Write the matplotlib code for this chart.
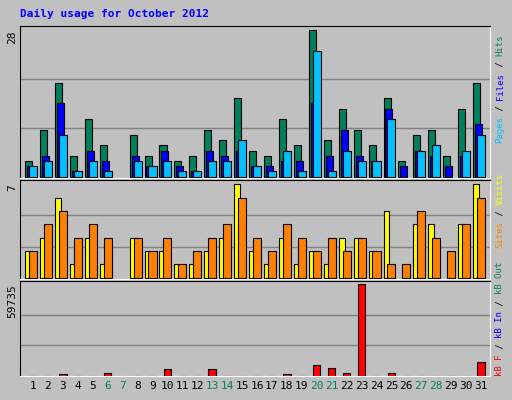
import numpy as np
from matplotlib import pyplot as plt

days = np.arange(1, 32)
hits = [3, 9, 18, 4, 11, 6, 0, 8, 4, 6, 3, 4, 9, 7, 15, 5, 4, 11, 6, 28, 7, 13, 9, 6, 15, 3, 8, 9, 4, 13, 18]
files = [2, 4, 14, 1, 5, 3, 0, 4, 2, 5, 2, 1, 5, 4, 5, 2, 2, 3, 3, 14, 4, 9, 4, 3, 13, 2, 5, 4, 2, 4, 10]
pages = [2, 3, 8, 1, 3, 1, 0, 3, 2, 3, 1, 1, 3, 3, 7, 2, 1, 5, 1, 24, 1, 5, 3, 3, 11, 0, 5, 6, 0, 5, 8]
visits = [2, 3, 6, 1, 3, 1, 0, 3, 2, 2, 1, 1, 2, 3, 7, 2, 1, 3, 1, 2, 1, 3, 3, 2, 5, 0, 4, 4, 0, 4, 7]
sites = [2, 4, 5, 3, 4, 3, 0, 3, 2, 3, 1, 2, 3, 4, 6, 3, 2, 4, 3, 2, 3, 2, 3, 2, 1, 1, 5, 3, 2, 4, 6]
kbytes = [300, 300, 1300, 300, 300, 2200, 0, 300, 300, 4800, 300, 300, 4800, 300, 300, 300, 300, 1300, 300,
          7400, 5450, 2200, 59735, 300, 2200, 300, 300, 300, 300, 300, 9400]
weekends = [6, 7, 13, 14, 20, 21, 27, 28]

BG = '#C0C0C0'
mono = 'DejaVu Sans Mono'
fig = plt.figure(figsize=(5.12, 4.0), dpi=100, facecolor=BG)

def px_axes(top, bottom):
    return fig.add_axes([20/512, 1 - bottom/400, 470/512, (bottom - top)/400], facecolor=BG)

def nz(v):
    v = np.array(v, dtype=float)
    return np.where(v > 0, v, np.nan)

ax1 = px_axes(26, 178)
ax2 = px_axes(180, 279)
ax3 = px_axes(281, 376)

kw = dict(align='edge', edgecolor='black', linewidth=0.8)
ax1.bar(days - 0.53, nz(hits), 0.47, color='#00805C', **kw)
ax1.bar(days - 0.40, nz(files), 0.47, color='#0000FF', **kw)
ax1.bar(days - 0.27, nz(pages), 0.54, color='#00C0FF', **kw)
ax1.set_ylim(-0.25, 28.8)

ax2.bar(days - 0.53, nz(visits), 0.40, color='#FFFF00', **kw)
ax2.bar(days - 0.27, nz(sites), 0.54, color='#FF8000', **kw)
ax2.set_ylim(-0.1, 7.33)

ax3.bar(days - 0.25, nz(kbytes), 0.5, color='#FF0000', **kw)
ax3.set_ylim(0, 61900)

for ax, top in [(ax1, 28), (ax2, 7), (ax3, 59735)]:
    ax.set_xlim(0.13, 31.6)
    for g in (top / 3, 2 * top / 3):
        ax.axhline(g, color='#808080', linewidth=1, zorder=0)
    ax.set_yticks([top])
    ax.set_yticklabels([str(top)], rotation=90, va='top', family=mono, fontsize=8)
    ax.tick_params(axis='y', length=0, pad=2)
    ax.tick_params(axis='x', length=0)
    for s in ax.spines.values():
        s.set_color('black')
    ax.spines['right'].set_color('white')
    ax.spines['bottom'].set_color('white')
    ax.set_axisbelow(True)

ax1.set_xticks([])
ax2.set_xticks([])
ax3.set_xticks(days)
ax3.set_xticklabels([str(d) for d in days], family=mono, fontsize=8)
for lbl, d in zip(ax3.get_xticklabels(), days):
    lbl.set_color('#00805C' if d in weekends else 'black')

fig.text(20/512, 1 - 14/400, 'Daily usage for October 2012', color='#0000FF',
         family=mono, fontweight='bold', fontsize=8, va='center')

# right side legends, rotated, bottom to top
FS = 6.5
CH = 0.602 * FS * 100 / 72

def side_label(parts, y_bottom):
    y = y_bottom
    for txt, col in parts:
        fig.text(500/512, 1 - y/400, txt, color=col, rotation=90, family=mono,
                 fontsize=FS, ha='center', va='bottom')
        y -= len(txt) * CH

side_label([('Pages', '#00C0FF'), (' / ', 'black'), ('Files', '#0000FF'),
            (' / ', 'black'), ('Hits', '#00805C')], 143)
side_label([('Sites', '#FF8000'), (' / ', 'black'), ('Visits', '#FFFF00')], 248)
side_label([('kB F', '#FF0000'), (' / ', 'black'), ('kB In', '#0000FF'),
            (' / ', 'black'), ('kB Out', '#00805C')], 376)

plt.savefig('out.png', dpi=100, facecolor=BG)
